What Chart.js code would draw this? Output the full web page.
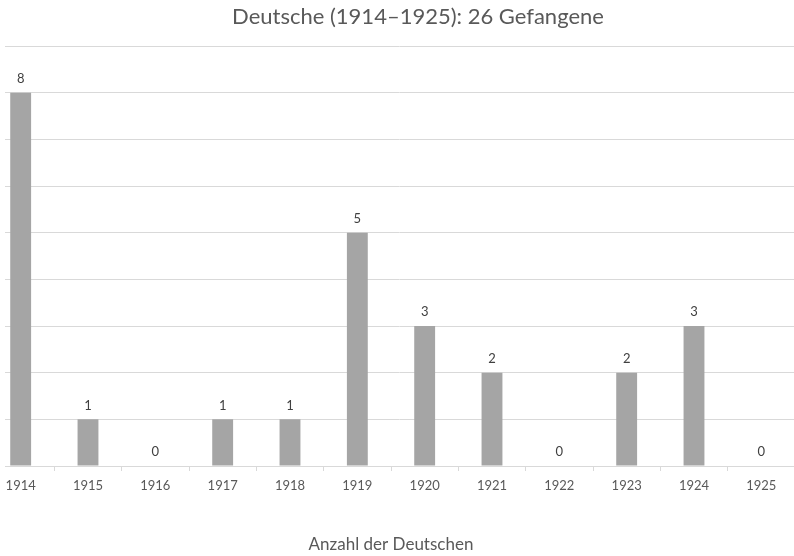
<!DOCTYPE html>
<html>
<head>
<meta charset="utf-8">
<script src="https://cdn.jsdelivr.net/npm/chart.js@4/dist/chart.umd.min.js"></script>
<style>
  body { margin: 0; background: #fff; }
  #wrap { position: relative; width: 794px; height: 556px; overflow: hidden; }
  #myChart { position: absolute; left: -13px; top: 0; }
</style>
</head>
<body>
<div id="wrap"><canvas id="myChart" width="808" height="556"></canvas></div>
<script>
// Jahre und Anzahl der Gefangenen
var years = ['1914', '1915', '1916', '1917', '1918', '1919', '1920', '1921', '1922', '1923', '1924', '1925'];
var counts = [8, 1, 0, 1, 1, 5, 3, 2, 0, 2, 3, 0];
var chartTitle = 'Deutsche (1914–1925): 26 Gefangene';
var axisTitle = 'Anzahl der Deutschen';

var textColor = '#595959';
var fontName = 'Lato';

// the plot area is cut off on the left in the original
var clipLeft = {
  id: 'clipLeft',
  beforeDraw: function (chart) {
    var ctx = chart.ctx;
    ctx.save();
    ctx.beginPath();
    ctx.rect(18, 0, chart.width, chart.height);
    ctx.clip();
  },
  afterDraw: function (chart) {
    chart.ctx.restore();
  }
};

// numbers above the bars
var valueLabels = {
  id: 'valueLabels',
  afterDatasetsDraw: function (chart) {
    var ctx = chart.ctx;
    var meta = chart.getDatasetMeta(0);
    ctx.save();
    ctx.fillStyle = '#404040';
    ctx.font = '13px ' + fontName;
    ctx.textAlign = 'center';
    ctx.textBaseline = 'middle';
    meta.data.forEach(function (bar, i) {
      ctx.fillText(String(counts[i]), bar.x, bar.y - 14);
    });
    ctx.restore();
  }
};

// title sits a bit right of the middle
var titleText = {
  id: 'titleText',
  afterDraw: function (chart) {
    var ctx = chart.ctx;
    ctx.save();
    ctx.fillStyle = textColor;
    ctx.font = '22px ' + fontName;
    ctx.textAlign = 'center';
    ctx.textBaseline = 'middle';
    ctx.fillText(chartTitle, 418 + 13, 17);
    ctx.restore();
  }
};

var ctx = document.getElementById('myChart').getContext('2d');
var myChart = new Chart(ctx, {
  type: 'bar',
  data: {
    labels: years,
    datasets: [{
      data: counts,
      backgroundColor: '#A5A5A5',
      barPercentage: 0.31,
      categoryPercentage: 1
    }]
  },
  options: {
    responsive: false,
    animation: false,
    layout: { padding: { top: 46, bottom: 1, left: 0, right: 0 } },
    plugins: {
      legend: { display: false },
      tooltip: { enabled: false }
    },
    scales: {
      x: {
        grid: {
          offset: true,
          drawOnChartArea: false,
          drawTicks: true,
          tickLength: 5,
          color: '#D9D9D9'
        },
        border: { color: '#D9D9D9' },
        ticks: {
          color: textColor,
          font: { family: fontName, size: 13 },
          padding: 7,
          maxRotation: 0
        },
        title: {
          display: true,
          text: axisTitle,
          color: textColor,
          font: { family: fontName, size: 17 },
          padding: { top: 34, bottom: 0 }
        }
      },
      y: {
        min: 0,
        max: 9,
        ticks: { display: false, stepSize: 1 },
        grid: { color: '#D9D9D9', drawTicks: false },
        border: { display: false }
      }
    }
  },
  plugins: [clipLeft, valueLabels, titleText]
});
</script>
</body>
</html>
